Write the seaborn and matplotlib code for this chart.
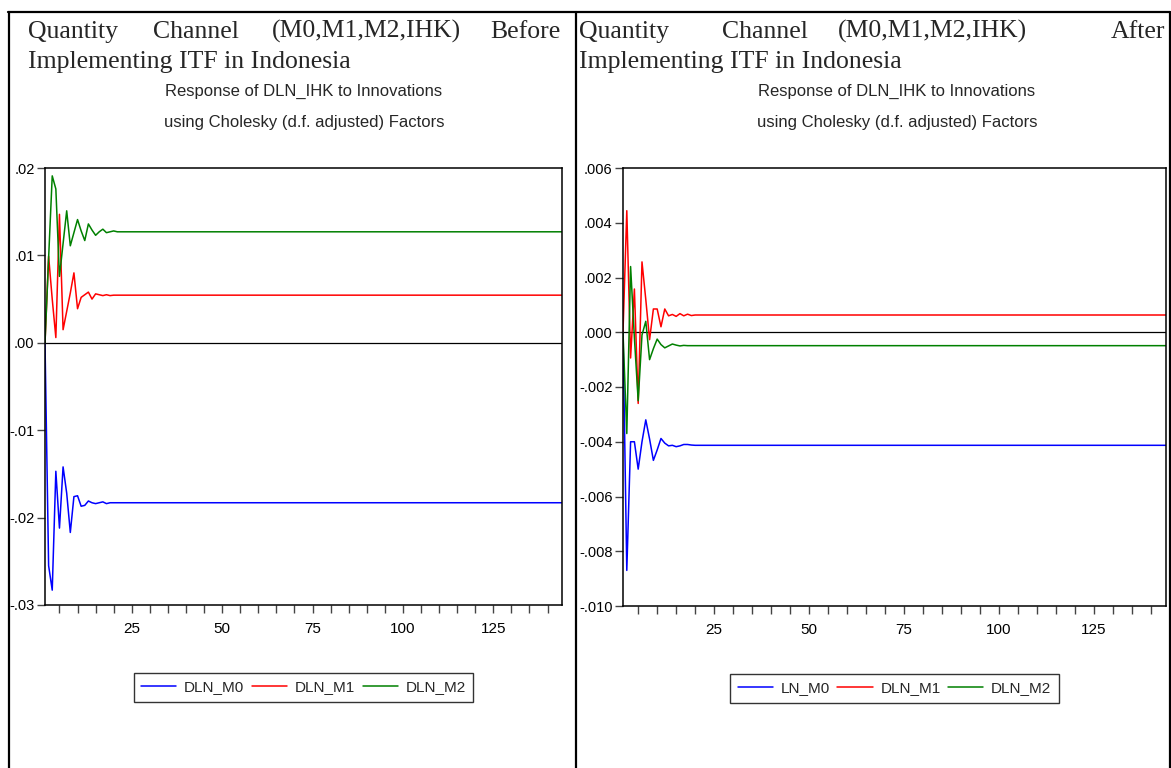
import matplotlib
matplotlib.use("Agg")
import matplotlib.pyplot as plt
from matplotlib.lines import Line2D
import seaborn as sns
import pandas as pd

# ---------------- data ----------------
periods = list(range(1, 145))

# Before ITF (left panel)
before_m0_head = [0.0, -0.0255, -0.0283, -0.0147, -0.0212, -0.0142, -0.0172, -0.0217,
                  -0.0176, -0.0175, -0.0187, -0.0186, -0.0181, -0.0183, -0.0184,
                  -0.0183, -0.0182, -0.0184, -0.0183, -0.0183]
before_m0_tail = -0.0183
before_m1_head = [0.0, 0.0099, 0.0050, 0.0006, 0.0147, 0.0015, 0.0036, 0.0057,
                  0.0080, 0.0039, 0.0052, 0.0055, 0.0058, 0.0050, 0.0056,
                  0.0055, 0.0054, 0.0055, 0.0054, 0.00545]
before_m1_tail = 0.00545
before_m2_head = [0.0, 0.0097, 0.0191, 0.0176, 0.0076, 0.0113, 0.0151, 0.0111,
                  0.0126, 0.0141, 0.0128, 0.0117, 0.0136, 0.0129, 0.0123,
                  0.0127, 0.0130, 0.0126, 0.0127, 0.0128]
before_m2_tail = 0.0127

# After ITF (right panel)
after_m0_head = [0.0, -0.0087, -0.0040, -0.0040, -0.0050, -0.0040, -0.0032, -0.0039,
                 -0.00468, -0.0043, -0.00388, -0.00405, -0.00415, -0.00413, -0.00418,
                 -0.00415, -0.0041, -0.0041, -0.00412, -0.00413]
after_m0_tail = -0.00413
after_m1_head = [0.0, 0.00444, -0.00094, 0.00158, -0.0026, 0.00257, 0.0012, -0.00027,
                 0.00085, 0.00085, 0.0002, 0.00085, 0.0006, 0.00065, 0.00058,
                 0.00068, 0.0006, 0.00066, 0.00061, 0.00063]
after_m1_tail = 0.00063
after_m2_head = [0.0, -0.0037, 0.0024, -0.0002, -0.0025, -0.0001, 0.0004, -0.0010,
                 -0.0006, -0.00025, -0.00045, -0.00057, -0.0005, -0.00043, -0.00047,
                 -0.0005, -0.00048, -0.00049, -0.00049, -0.00049]
after_m2_tail = -0.00049

left_series = ["DLN_M0", "DLN_M1", "DLN_M2"]
right_series = ["LN_M0", "DLN_M1", "DLN_M2"]

left_yticks = [0.02, 0.01, 0.0, -0.01, -0.02, -0.03]
left_yticklabels = [".02", ".01", ".00", "-.01", "-.02", "-.03"]
right_yticks = [0.006, 0.004, 0.002, 0.0, -0.002, -0.004, -0.006, -0.008, -0.010]
right_yticklabels = [".006", ".004", ".002", ".000", "-.002", "-.004", "-.006", "-.008", "-.010"]
xticks = list(range(5, 145, 5))
xticklabels_shown = [25, 50, 75, 100, 125]

title_words_left = ["Quantity", "Channel", "(M0,M1,M2,IHK)", "Before"]
title_words_right = ["Quantity", "Channel", "(M0,M1,M2,IHK)", "After"]
title_line2 = "Implementing ITF in Indonesia"
subtitle1 = "Response of DLN_IHK to Innovations"
subtitle2 = "using Cholesky (d.f. adjusted) Factors"


def full(head, tail):
    return head + [tail] * (len(periods) - len(head))


# ---------------- style ----------------
sns.set_style("white")
sans = ["Liberation Sans", "DejaVu Sans"]
serif = ["Liberation Serif", "DejaVu Serif"]
plt.rcParams["font.family"] = sans

W, H = 1171, 768
fig = plt.figure(figsize=(W / 100, H / 100), dpi=100)
fig.patch.set_facecolor("white")

colors = ["#0000FF", "#FF0000", "#008000"]


def px_axes(l, t, r, b):
    return fig.add_axes([l / W, 1 - b / H, (r - l) / W, (b - t) / H])


def draw_panel(ax, series_vals, names, yticks, ylabels, ylim):
    frames = []
    for name, vals in zip(names, series_vals):
        frames.append(pd.DataFrame({"period": periods, "value": vals, "series": name}))
    df = pd.concat(frames, ignore_index=True)
    ax.axhline(0, color="#000000", lw=0.9, zorder=1)
    sns.lineplot(data=df, x="period", y="value", hue="series", palette=colors,
                 hue_order=names, ax=ax, lw=1.1, legend=False, zorder=2)
    ax.set_xlim(1, 144)
    ax.set_ylim(*ylim)
    ax.set_yticks(yticks)
    ax.set_yticklabels(ylabels, fontsize=10.5)
    ax.set_xticks(xticks)
    ax.set_xticklabels([str(t) if t in xticklabels_shown else "" for t in xticks], fontsize=11)
    ax.set_xlabel("")
    ax.set_ylabel("")
    for s in ax.spines.values():
        s.set_color("black")
        s.set_linewidth(1.1)
        s.set_visible(True)
    ax.tick_params(axis="both", direction="out", length=6, width=1, color="#444444",
                   labelcolor="black", left=True, bottom=True)
    ax.tick_params(axis="y", pad=1.5)
    ax.tick_params(axis="x", pad=6)
    handles = [Line2D([0], [0], color=c, lw=1.1) for c in colors]
    leg = ax.legend(handles, names, ncol=3, loc="center", bbox_to_anchor=(0.5, -0.188),
                    frameon=True, fancybox=False, fontsize=11, handlelength=2.3,
                    columnspacing=0.5, handletextpad=0.5, borderpad=0.5,
                    borderaxespad=0.0)
    leg.get_frame().set_edgecolor("black")
    leg.get_frame().set_linewidth(1.0)


axL = px_axes(45, 168, 562, 605)
draw_panel(axL,
           [full(before_m0_head, before_m0_tail), full(before_m1_head, before_m1_tail),
            full(before_m2_head, before_m2_tail)],
           left_series, left_yticks, left_yticklabels, (-0.03, 0.02))

axR = px_axes(623, 168, 1166, 606)
draw_panel(axR,
           [full(after_m0_head, after_m0_tail), full(after_m1_head, after_m1_tail),
            full(after_m2_head, after_m2_tail)],
           right_series, right_yticks, right_yticklabels, (-0.010, 0.006))

# ---------------- document text ----------------
def fx(x):
    return x / W


def fy(y):
    return 1 - y / H


# justified first line: word positions (left x for first, right x for last)
left_pos = [(28, "left"), (153, "left"), (272, "left"), (561, "right")]
right_pos = [(579, "left"), (722, "left"), (838, "left"), (1165, "right")]
for words, pos in ((title_words_left, left_pos), (title_words_right, right_pos)):
    for w, (x, ha) in zip(words, pos):
        fig.text(fx(x), fy(38), w, ha=ha, va="baseline", fontsize=18.5, family=serif)

fig.text(fx(28), fy(68), title_line2, ha="left", va="baseline", fontsize=18.5, family=serif)
fig.text(fx(579), fy(68), title_line2, ha="left", va="baseline", fontsize=18.5, family=serif)

for cx in (304, 897):
    fig.text(fx(cx), fy(96), subtitle1, ha="center", va="baseline", fontsize=12, family=sans)
    fig.text(fx(cx), fy(127), subtitle2, ha="center", va="baseline", fontsize=12, family=sans)

# table borders
border_kw = dict(color="black", lw=1.6, transform=fig.transFigure)
fig.add_artist(Line2D([fx(8), fx(1170)], [fy(12), fy(12)], **border_kw))
fig.add_artist(Line2D([fx(9), fx(9)], [fy(12), fy(768)], **border_kw))
fig.add_artist(Line2D([fx(576), fx(576)], [fy(12), fy(768)], **border_kw))
fig.add_artist(Line2D([fx(1169.5), fx(1169.5)], [fy(12), fy(768)], **border_kw))

fig.savefig("out.png", dpi=100, facecolor="white")
